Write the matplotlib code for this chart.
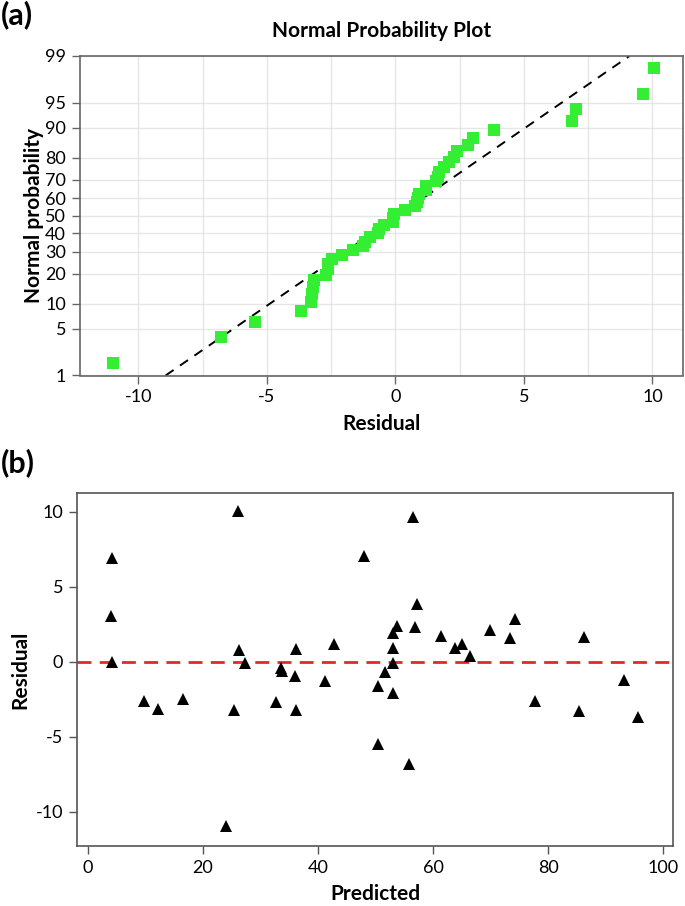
from statistics import NormalDist
import matplotlib
matplotlib.use('Agg')
import matplotlib.pyplot as plt
import numpy as np

plt.rcParams['font.family'] = ['Lato', 'DejaVu Sans']
plt.rcParams['axes.unicode_minus'] = False

# 残差与预测值
predicted = [4.3, 4.1, 4.3, 9.8, 12.3, 16.6, 26.1, 25.4, 24.0, 26.3, 27.3,
             32.8, 33.5, 33.7, 36.2, 36.1, 36.2, 41.3, 42.8, 48.0, 50.5, 50.4,
             51.6, 53.1, 53.1, 53.1, 53.1, 53.8, 56.5, 55.8, 57.2, 56.8, 61.4,
             63.9, 65.0, 66.5, 69.9, 73.4, 74.3, 77.8, 85.3, 86.3, 93.2, 95.7]
residual = [6.89, 3.02, -0.04, -2.64, -3.16, -2.47, 10.07, -3.24, -10.98, 0.76, -0.09,
            -2.71, -0.44, -0.62, 0.84, -0.98, -3.20, -1.27, 1.20, 7.02, -1.64, -5.47,
            -0.69, -2.09, 0.89, -0.09, 1.91, 2.40, 9.64, -6.80, 3.84, 2.29, 1.69,
            0.91, 1.20, 0.36, 2.09, 1.58, 2.84, -2.64, -3.27, 1.64, -1.20, -3.69]
prob_ticks = [1, 5, 10, 20, 30, 40, 50, 60, 70, 80, 90, 95, 99]
res_xticks = [-10, -5, 0, 5, 10]
pred_xticks = [0, 20, 40, 60, 80, 100]
res_yticks = [-10, -5, 0, 5, 10]

nd = NormalDist()


def probit(p):
    return nd.inv_cdf(p / 100.0)


fig = plt.figure(figsize=(6.85, 9.06), dpi=100)
W, H = 685.0, 906.0

# ---------- (a) normal probability plot ----------
ax1 = fig.add_axes([80 / W, 1 - 375.5 / H, (683 - 80) / W, (375.5 - 56) / H])

r_sorted = np.sort(residual)
n = len(r_sorted)
ranks = np.arange(1, n + 1)
pos = (ranks - 0.3) / (n + 0.4) * 100  # median rank
z = [probit(p) for p in pos]

mu = np.mean(residual)
sd = np.std(residual, ddof=1)
zl = np.array([probit(1), probit(99)])
ax1.plot(mu + sd * zl, zl, color='black', ls=(0, (5, 4)), lw=1.4, zorder=2)
ax1.plot(r_sorted, z, 's', color='#33ee33', markersize=8, markeredgewidth=0, zorder=3)

ax1.set_xlim(-12.27, 11.19)
ax1.set_ylim(probit(1), probit(99))
ax1.set_yticks([probit(p) for p in prob_ticks])
ax1.set_yticklabels([str(p) for p in prob_ticks])
ax1.set_xticks(res_xticks)
ax1.set_xticklabels([str(v) for v in res_xticks])
ax1.set_xticks(np.arange(-10, 10.1, 2.5), minor=True)
ax1.grid(True, which='both', color='#e6e6e6', lw=1.0, zorder=0)
ax1.tick_params(which='minor', length=0)
ax1.tick_params(which='major', labelsize=13, length=6, width=1, color='#666666', pad=4)
for s in ax1.spines.values():
    s.set_color('#666666')
    s.set_linewidth(1.2)
ax1.set_axisbelow(True)
ax1.set_title('Normal Probability Plot', fontsize=15, fontweight='bold', pad=14)
ax1.set_xlabel('Residual', fontsize=15, fontweight='bold', labelpad=6)
ax1.set_ylabel('Normal probability', fontsize=15, fontweight='bold', labelpad=1)

# ---------- (b) residual vs predicted ----------
ax2 = fig.add_axes([77 / W, 1 - 845.7 / H, (673 - 77) / W, (845.7 - 493.3) / H])
ax2.axhline(0, color='#e02a2a', ls=(0, (5, 3)), lw=2, zorder=2)
ax2.plot(predicted, residual, '^', color='black', markersize=9, markeredgewidth=0, zorder=3)
ax2.set_xlim(-1.86, 101.7)
ax2.set_ylim(-12.27, 11.23)
ax2.set_xticks(pred_xticks)
ax2.set_yticks(res_yticks)
ax2.tick_params(labelsize=13, length=6, width=1, color='#555555', pad=4)
for s in ax2.spines.values():
    s.set_color('#555555')
    s.set_linewidth(1.2)
ax2.set_xlabel('Predicted', fontsize=15, fontweight='bold', labelpad=6)
ax2.set_ylabel('Residual', fontsize=15, fontweight='bold', labelpad=4)

fig.text(1 / W, 1 - 0 / H, '(a)', fontsize=22, fontweight='bold', va='top', ha='left')
fig.text(1 / W, 1 - 448 / H, '(b)', fontsize=22, fontweight='bold', va='top', ha='left')

fig.savefig('out.png', dpi=100)
